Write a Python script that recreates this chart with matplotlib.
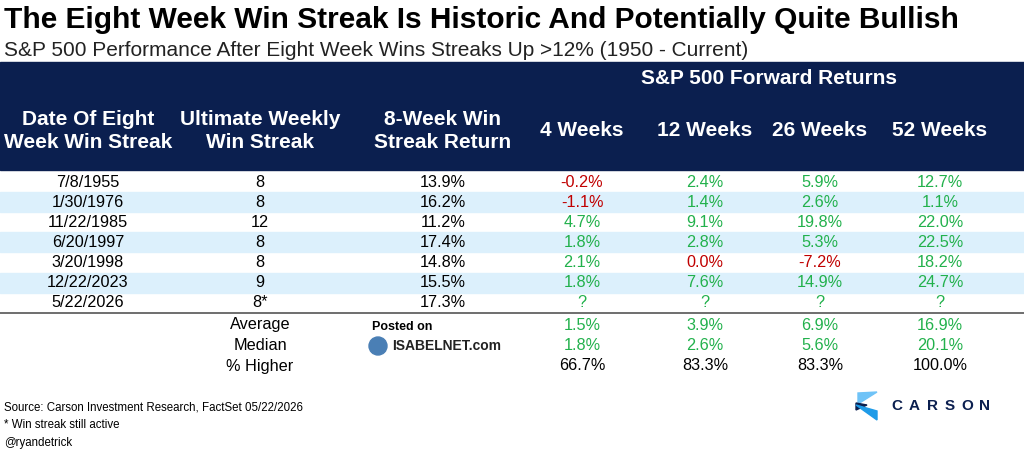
import matplotlib
matplotlib.use("Agg")
import matplotlib.pyplot as plt
from matplotlib.patches import Rectangle, Polygon

plt.rcParams['font.family'] = ['Liberation Sans', 'DejaVu Sans']

title = "The Eight Week Win Streak Is Historic And Potentially Quite Bullish"
subtitle = "S&P 500 Performance After Eight Week Wins Streaks Up >12% (1950 - Current)"
group_header = "S&P 500 Forward Returns"
col_headers = ["Date Of Eight\nWeek Win Streak", "Ultimate Weekly\nWin Streak", "8-Week Win\nStreak Return",
               "4 Weeks", "12 Weeks", "26 Weeks", "52 Weeks"]
dates = ["7/8/1955", "1/30/1976", "11/22/1985", "6/20/1997", "3/20/1998", "12/22/2023", "5/22/2026"]
streaks = ["8", "8", "12", "8", "8", "9", "8*"]
streak_ret = [13.9, 16.2, 11.2, 17.4, 14.8, 15.5, 17.3]
fwd4 = [-0.2, -1.1, 4.7, 1.8, 2.1, 1.8, None]
fwd12 = [2.4, 1.4, 9.1, 2.8, 0.0, 7.6, None]
fwd26 = [5.9, 2.6, 19.8, 5.3, -7.2, 14.9, None]
fwd52 = [12.7, 1.1, 22.0, 22.5, 18.2, 24.7, None]
stat_labels = ["Average", "Median", "% Higher"]
stat_vals = [[1.5, 3.9, 6.9, 16.9], [1.8, 2.6, 5.6, 20.1], [66.7, 83.3, 83.3, 100.0]]
footer = ["Source: Carson Investment Research, FactSet 05/22/2026", "* Win streak still active", "@ryandetrick"]

NAVY = "#0b1f4f"
LIGHT = "#dcf0fc"
GREEN = "#22b14c"
RED = "#c00000"
FS = 11.7

fig = plt.figure(figsize=(10.24, 4.5), dpi=100)
ax = fig.add_axes([0, 0, 1, 1])
ax.set_xlim(0, 1024); ax.set_ylim(450, 0); ax.axis('off')

ax.text(4, 20, title, fontsize=21.5, fontweight='bold', va='center', ha='left', color='black')
ax.text(4, 50, subtitle, fontsize=15, va='center', ha='left', color='#222222')

ax.add_patch(Rectangle((0, 62), 1024, 108, color=NAVY, zorder=0))
ax.text(769, 78, group_header, fontsize=15, fontweight='bold', color='white', ha='center', va='center')
xs = [88, 260, 443, 582, 705, 820, 940]
for x, h in zip(xs, col_headers):
    ax.text(x, 131, h, fontsize=15, fontweight='bold', color='white', ha='center', va='center', linespacing=1.25)

def fmt(v):
    return "?" if v is None else f"{v:.1f}%"

def col(v):
    if v is None:
        return GREEN
    return RED if v <= 0 else GREEN

top = 172; rh = 20.1
for i in range(len(dates)):
    y = top + rh * i + rh / 2
    if i % 2 == 1:
        ax.add_patch(Rectangle((0, top + rh * i), 1024, rh, color=LIGHT, zorder=0))
    ax.text(xs[0], y, dates[i], fontsize=FS, ha='center', va='center')
    ax.text(xs[1], y, streaks[i], fontsize=FS, ha='center', va='center')
    ax.text(xs[2], y, fmt(streak_ret[i]), fontsize=FS, ha='center', va='center')
    for j, arr in enumerate([fwd4, fwd12, fwd26, fwd52]):
        ax.text(xs[3 + j], y, fmt(arr[i]), fontsize=FS, ha='center', va='center', color=col(arr[i]))

ax.plot([0, 1024], [313, 313], color='#555555', lw=1.2)
for k, lab in enumerate(stat_labels):
    y = 325 + 20.5 * k
    ax.text(xs[1], y, lab, fontsize=FS, ha='center', va='center')
    for j in range(4):
        v = stat_vals[k][j]
        ax.text(xs[3 + j], y, f"{v:.1f}%", fontsize=FS, ha='center', va='center',
                color='black' if k == 2 else GREEN)

# watermark
ax.text(372, 327, "Posted on", fontsize=9, ha='left', va='center', fontweight='bold')
ax.add_patch(plt.Circle((378, 346), 9, color='#4a7fb5'))
ax.text(392, 346, "ISABELNET.com", fontsize=10, ha='left', va='center', fontweight='bold', color='#222')

for k, f in enumerate(footer):
    ax.text(4, 407 + 18 * k, f, fontsize=8.3, ha='left', va='center')

# Carson logo
ax.add_patch(Polygon([[858, 393], [877, 392], [858, 404]], color='#6fc3f7'))
ax.add_patch(Polygon([[856, 403], [867, 405], [856, 410]], color=NAVY))
ax.add_patch(Polygon([[856, 405], [877, 411], [877, 420]], color='#1e9be8'))
for k, ch in enumerate("CARSON"):
    ax.text(897 + k * 17.5, 406, ch, fontsize=11, ha='center', va='center', color=NAVY, fontweight='bold')

fig.savefig("out.png", dpi=100)
